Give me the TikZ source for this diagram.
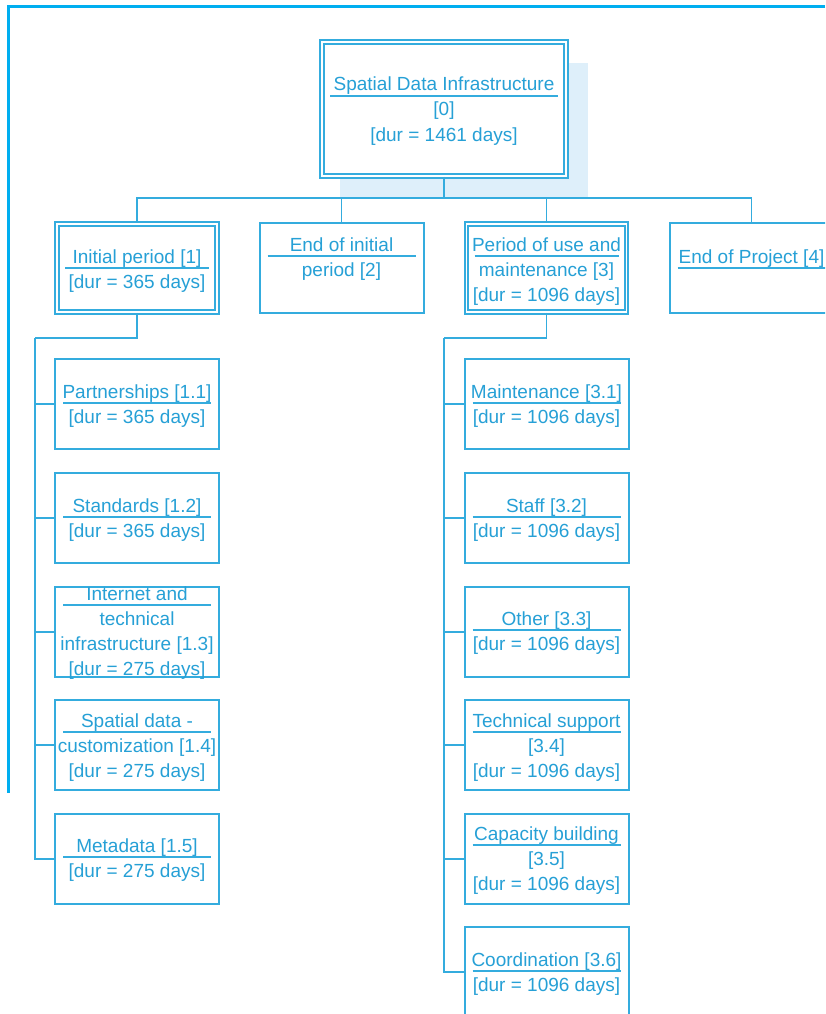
\documentclass[tikz,border=0pt]{standalone}
\usepackage{fontspec}
\setmainfont{Liberation Sans}
\usetikzlibrary{calc}

\definecolor{wbsline}{RGB}{52,172,222}
\definecolor{wbstext}{RGB}{38,160,214}
\definecolor{frameblue}{RGB}{0,174,240}
\definecolor{shadowblue}{RGB}{222,239,250}

\tikzset{
  box/.style={draw=wbsline, line width=2pt, fill=white, inner sep=0pt},
  dbox/.style={box, double=white, double distance=1.8pt, line width=1.8pt},
  txt/.style={text=wbstext, font=\fontsize{19}{25}\selectfont, inner sep=0pt, anchor=base},
  uline/.style={draw=wbsline, line width=2pt},
  link/.style={draw=wbsline, line width=1.8pt},
}

% #1 name, #2 x centre, #3 y top, #4 width, #5 height, #6 box style,
% #7 y of the rule under the first line, #8 first line, #9 further lines
\newcommand\wbsbox[9]{%
  \node[#6, minimum width=#4pt, minimum height=#5pt] (#1) at (#2,{#3+#5/2}) {};
  \node[txt] (#1-h) at (#2,{#7-5}) {#8};
  \draw[uline] ({#2-#4/2+8},#7) -- ({#2+#4/2-8},#7);
  \foreach \rowtext [count=\i] in {#9} {
    \node[txt] (#1-l\i) at (#2,{#7+20+(\i-1)*25}) {\rowtext};
  }%
}

\begin{document}
\begin{tikzpicture}[x=1pt,y=-1pt]
  \clip (0,0) rectangle (825,1014);
  \fill[white] (0,0) rectangle (825,1014);

  % frame
  \draw[frameblue, line width=3pt] (825,7) -- (8,7) -- (8,793);

  % shaded block behind the root
  \fill[shadowblue] (340,63) rectangle (588,198);

  % connector anchors
  \coordinate (hub) at (444,198);
  \coordinate (lt) at (35,338);
  \coordinate (rt) at (444,338);

  % root and first level
  \wbsbox{root}{444}{42}{244}{134}{dbox}{96}{Spatial Data Infrastructure}{{[0]},{[dur = 1461 days]}}
  \wbsbox{b1}{137}{224}{160}{88}{dbox}{268}{Initial period [1]}{{[dur = 365 days]}}
  \wbsbox{b2}{341.5}{223}{164}{90}{box}{256}{End of initial}{{period [2]}}
  \wbsbox{b3}{546.5}{224}{160}{88}{dbox}{256}{Period of use and}{{maintenance [3]},{[dur = 1096 days]}}
  \node[box, minimum width=164pt, minimum height=90pt] (b4) at (751.5,268) {};
  \node[txt] (b4-h) at (751.5,263) {End of Project [4]};
  \draw[uline] (677.5,268) -- (825.5,268);

  % children of [1]
  \wbsbox{c11}{137}{359}{164}{90}{box}{403}{Partnerships [1.1]}{{[dur = 365 days]}}
  \wbsbox{c12}{137}{473}{164}{90}{box}{517}{Standards [1.2]}{{[dur = 365 days]}}
  \wbsbox{c13}{137}{587}{164}{90}{box}{605}{Internet and}{{technical},{infrastructure [1.3]},{[dur = 275 days]}}
  \wbsbox{c14}{137}{700}{164}{90}{box}{732}{Spatial data -}{{customization [1.4]},{[dur = 275 days]}}
  \wbsbox{c15}{137}{814}{164}{90}{box}{857}{Metadata [1.5]}{{[dur = 275 days]}}

  % children of [3]
  \wbsbox{c31}{546.5}{359}{164}{90}{box}{403}{Maintenance [3.1]}{{[dur = 1096 days]}}
  \wbsbox{c32}{546.5}{473}{164}{90}{box}{517}{Staff [3.2]}{{[dur = 1096 days]}}
  \wbsbox{c33}{546.5}{587}{164}{90}{box}{630}{Other [3.3]}{{[dur = 1096 days]}}
  \wbsbox{c34}{546.5}{700}{164}{90}{box}{732}{Technical support}{{[3.4]},{[dur = 1096 days]}}
  \wbsbox{c35}{546.5}{814}{164}{90}{box}{845}{Capacity building}{{[3.5]},{[dur = 1096 days]}}
  \wbsbox{c36}{546.5}{927}{164}{90}{box}{971}{Coordination [3.6]}{{[dur = 1096 days]}}

  % connectors
  \draw[link] (root.south) -- (hub);
  \foreach \n in {b1,b2,b3,b4} \draw[link] (hub) -| (\n.north);
  \draw[link] (b1.south) |- (lt);
  \foreach \n in {c11,c12,c13,c14,c15} \draw[link] (lt) |- (\n.west);
  \draw[link] (b3.south) |- (rt);
  \foreach \n in {c31,c32,c33,c34,c35,c36} \draw[link] (rt) |- (\n.west);
\end{tikzpicture}
\end{document}
